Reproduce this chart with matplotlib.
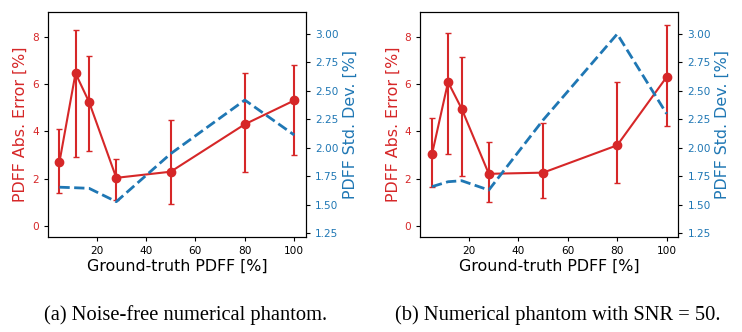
import matplotlib.pyplot as plt

# ground-truth fat fractions of the phantom vials
pdff_true = [5, 11.5, 17, 28, 50, 80, 100]

# (a) noise-free phantom
err_a = [2.70, 6.46, 5.24, 2.03, 2.29, 4.30, 5.31]
err_a_lo = [1.40, 2.90, 3.17, 1.10, 0.92, 2.29, 2.98]
err_a_hi = [4.10, 8.29, 7.18, 2.84, 4.49, 6.48, 6.80]
std_a = [1.655, 1.65, 1.645, 1.528, 1.949, 2.42, 2.113]

# (b) phantom with SNR = 50
err_b = [3.03, 6.09, 4.96, 2.20, 2.25, 3.41, 6.30]
err_b_lo = [1.63, 3.05, 2.09, 1.02, 1.19, 1.82, 4.22]
err_b_hi = [4.56, 8.15, 7.15, 3.53, 4.34, 6.10, 8.49]
std_b = [1.66, 1.703, 1.712, 1.63, 2.245, 3.00, 2.30]

x_ticks = [20, 40, 60, 80, 100]
err_ticks = [0, 2, 4, 6, 8]
std_ticks = [1.25, 1.50, 1.75, 2.00, 2.25, 2.50, 2.75, 3.00]

RED = "tab:red"
BLUE = "tab:blue"


def draw_panel(ax, err, lo, hi, std, caption):
    yerr = [[e - l for e, l in zip(err, lo)], [h - e for e, h in zip(err, hi)]]
    ax.errorbar(pdff_true, err, yerr=yerr, color=RED, marker="o", ms=6,
                lw=1.5, elinewidth=1.5, capsize=2.5)
    ax.set_xlim(0.25, 104.75)
    ax.set_ylim(-0.49, 9.07)
    ax.set_xticks(x_ticks)
    ax.set_yticks(err_ticks)
    ax.set_xlabel("Ground-truth PDFF [%]", fontsize=11.4, labelpad=2)
    ax.set_ylabel("PDFF Abs. Error [%]", color=RED, fontsize=11.4, labelpad=3)
    ax.tick_params(axis="both", labelsize=7.6, length=3)
    ax.tick_params(axis="y", labelcolor=RED)

    ax2 = ax.twinx()
    ax2.plot(pdff_true, std, color=BLUE, ls="--", lw=2)
    ax2.set_ylim(1.215, 3.196)
    ax2.set_yticks(std_ticks)
    ax2.set_ylabel("PDFF Std. Dev. [%]", color=BLUE, fontsize=11.4, labelpad=3)
    ax2.tick_params(axis="y", labelsize=7.6, length=3, labelcolor=BLUE)

    pos = ax.get_position()
    fig.text((pos.x0 + pos.x1) / 2 + 0.012, 0.051, caption,
             family="Liberation Serif", fontsize=14.8, ha="center", va="center")


fig = plt.figure(figsize=(7.42, 3.32), dpi=100)
ax_a = fig.add_axes([0.0643, 0.2852, 0.3481, 0.6796])
ax_b = fig.add_axes([0.5664, 0.2852, 0.3478, 0.6796])

draw_panel(ax_a, err_a, err_a_lo, err_a_hi, std_a, "(a) Noise-free numerical phantom.")
draw_panel(ax_b, err_b, err_b_lo, err_b_hi, std_b, "(b) Numerical phantom with SNR = 50.")

fig.savefig("out.png", dpi=100)
